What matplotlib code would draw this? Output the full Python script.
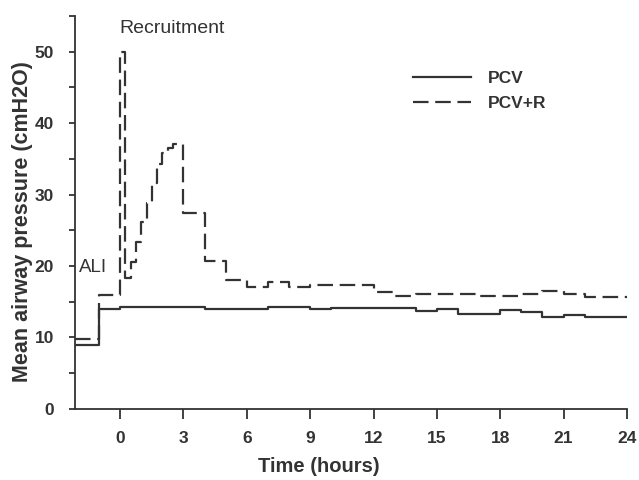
import matplotlib
matplotlib.use("Agg")
import matplotlib.pyplot as plt
from matplotlib.ticker import MultipleLocator

plt.rcParams["font.family"] = ["Liberation Sans", "DejaVu Sans"]

# step start times (hours); last entry closes the final step
hours = [-2.15, -1, 0, 0.25, 0.5, 0.75, 1, 1.25, 1.5, 1.75, 2, 2.25, 2.5,
         3, 4, 5, 6, 7, 8, 9, 10, 11, 12, 13, 14, 15, 16, 17, 18, 19, 20,
         21, 22, 23, 24]

pcv = [9.0, 14.0, 14.3, 14.3, 14.3, 14.3, 14.3, 14.3, 14.3, 14.3, 14.2, 14.2,
       14.2, 14.2, 14.0, 13.95, 13.95, 14.3, 14.3, 14.0, 14.15, 14.15, 14.15,
       14.15, 13.7, 14.0, 13.25, 13.25, 13.85, 13.6, 12.85, 13.15, 12.85,
       12.85, 12.85]

pcv_r = [9.8, 16.0, 50.0, 18.3, 20.6, 23.4, 26.2, 28.8, 31.6, 34.3, 35.8, 36.5,
         37.0, 27.4, 20.7, 18.0, 17.1, 17.8, 17.1, 17.3, 17.4, 17.4, 16.3,
         15.85, 16.05, 16.1, 16.05, 15.85, 15.85, 16.1, 16.55, 16.1, 15.7,
         15.7, 15.7]

x_ticks = [0, 3, 6, 9, 12, 15, 18, 21, 24]
y_ticks = [0, 10, 20, 30, 40, 50]

ink = "#333333"

fig = plt.figure(figsize=(6.39, 4.8), dpi=100)
ax = fig.add_axes([0.117, 0.148, 0.864, 0.819])

ax.step(hours, pcv, where="post", color=ink, lw=1.6, label="PCV")
ax.step(hours, pcv_r, where="post", color=ink, lw=1.6,
        linestyle=(0, (7, 3)), label="PCV+R")

ax.set_xlim(-2.15, 24)
ax.set_ylim(0, 55)
ax.set_xticks(x_ticks)
ax.set_yticks(y_ticks)
ax.yaxis.set_minor_locator(MultipleLocator(5))

for side in ("top", "right"):
    ax.spines[side].set_visible(False)
for side in ("left", "bottom"):
    ax.spines[side].set_color(ink)
    ax.spines[side].set_linewidth(1.3)

ax.tick_params(axis="x", direction="out", length=7, width=1.3, color=ink,
               pad=9, labelsize=12.5, labelcolor=ink)
ax.tick_params(axis="y", which="both", direction="out", length=4, width=1.3,
               color=ink, pad=11, labelsize=12.5, labelcolor=ink)
for lbl in ax.get_xticklabels() + ax.get_yticklabels():
    lbl.set_fontweight("bold")

ax.set_xlabel("Time (hours)", fontsize=14.5, fontweight="bold", color=ink)
ax.xaxis.set_label_coords(0.442, -0.122)
ax.set_ylabel("Mean airway pressure (cmH2O)", fontsize=15.5,
              fontweight="bold", color=ink)
ax.yaxis.set_label_coords(-0.075, 0.476)

ax.text(2.45, 53.2, "Recruitment", fontsize=14, color=ink,
        ha="center", va="center")
ax.text(-1.95, 19.8, "ALI", fontsize=13.5, color=ink, ha="left", va="center")

leg = ax.legend(loc="upper left", bbox_to_anchor=(0.585, 0.9), frameon=False,
                handlelength=3.3, handletextpad=1.0, labelspacing=0.55,
                prop={"size": 12.5, "weight": "bold"})
for t in leg.get_texts():
    t.set_color(ink)

fig.savefig("out.png", dpi=100)
